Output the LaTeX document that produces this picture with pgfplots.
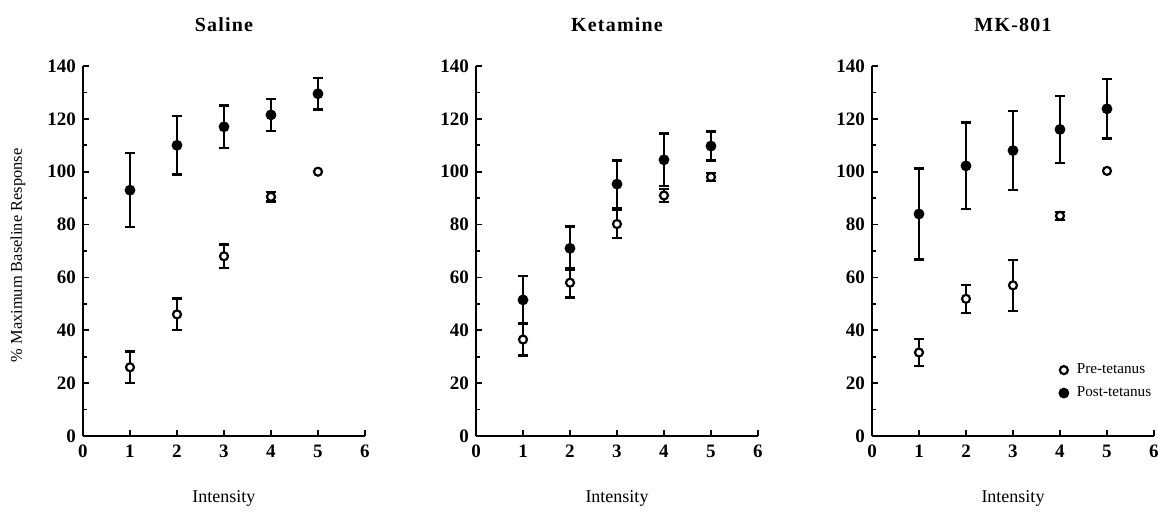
\documentclass[border=0pt]{standalone}
\usepackage{fontspec}
\setmainfont{Liberation Serif}
\newfontfamily\titlefont[LetterSpace=6]{Liberation Serif}
\usepackage{pgfplots}
\pgfplotsset{compat=1.18}

\pgfplotsset{
  panel/.style={
    scale only axis, width=141pt, height=185pt, anchor=south west,
    xmin=0, xmax=6, ymin=0, ymax=140,
    xtick={0,...,6}, ytick={0,20,...,140}, minor y tick num=1,
    axis lines*=left, axis line style={line width=1.1pt},
    tick align=inside, major tick length=3pt, minor tick length=1.8pt,
    tick style={line width=0.9pt, black},
    /pgf/number format/assume math mode=true,
    tick label style={font=\bfseries\fontsize{9.5}{11}\selectfont},
    xticklabel style={yshift=-1pt},
    title style={font=\titlefont\bfseries\fontsize{10}{12}\selectfont,
      at={(axis description cs:0.5,1.062)}, anchor=base},
    xlabel={Intensity},
    xlabel style={font=\fontsize{9}{11}\selectfont,
      at={(axis description cs:0.5,-0.181)}, anchor=base},
    ylabel style={font=\fontsize{8.2}{10}\selectfont,
      at={(axis description cs:-0.2305,0.488)}, anchor=center},
    clip=false,
    error bars/y dir=both, error bars/y explicit,
    error bars/error mark=-,
    error bars/error bar style={line width=1.2pt, black},
    error bars/error mark options={rotate=90, mark size=2.6pt, line width=1.2pt, draw=black},
  },
  pre/.style={only marks, mark=*, mark size=2pt,
    mark options={fill=white, draw=black, line width=1.1pt}},
  post/.style={only marks, mark=*, mark size=2.5pt,
    mark options={fill=black, draw=black}},
}

\begin{document}
\begin{tikzpicture}
\useasboundingbox (0,0) rectangle (579pt,256pt);

% Saline
\begin{axis}[panel, at={(41.5pt,38pt)}, title={Saline},
  ylabel={\% Maximum Baseline Response}]
\addplot[pre] coordinates {(1,26) +- (0,6) (2,46) +- (0,6) (3,68) +- (0,4.5) (4,90.5) +- (0,1.8) (5,100) +- (0,0)};
\addplot[post] coordinates {(1,93) +- (0,14) (2,110) +- (0,11) (3,117) +- (0,8) (4,121.5) +- (0,6) (5,129.5) +- (0,6)};
\end{axis}

% Ketamine
\begin{axis}[panel, at={(238pt,38pt)}, title={Ketamine}]
\addplot[pre] coordinates {(1,36.5) +- (0,6) (2,58) +- (0,5.6) (3,80.2) +- (0,5.3) (4,91) +- (0,2.4) (5,98) +- (0,1.5)};
\addplot[post] coordinates {(1,51.5) +- (0,9) (2,71) +- (0,8.3) (3,95.3) +- (0,9) (4,104.5) +- (0,10) (5,109.7) +- (0,5.5)};
\end{axis}

% MK-801
\begin{axis}[panel, at={(436pt,38pt)}, title={MK-801},
  legend style={draw=none, fill=none, at={(axis description cs:0.64,0.147)},
    anchor=west, font=\fontsize{7.6}{9}\selectfont, row sep=1pt,
    legend cell align=left, nodes={inner xsep=4pt}}]
\addplot[pre] coordinates {(1,31.6) +- (0,5.2) (2,51.9) +- (0,5.3) (3,57) +- (0,9.6) (4,83.3) +- (0,1.5) (5,100.3) +- (0,0)};
\addlegendentry{Pre-tetanus}
\addplot[post] coordinates {(1,84) +- (0,17.2) (2,102.2) +- (0,16.4) (3,108) +- (0,15) (4,116) +- (0,12.7) (5,123.8) +- (0,11.2)};
\addlegendentry{Post-tetanus}
\end{axis}
\end{tikzpicture}
\end{document}
